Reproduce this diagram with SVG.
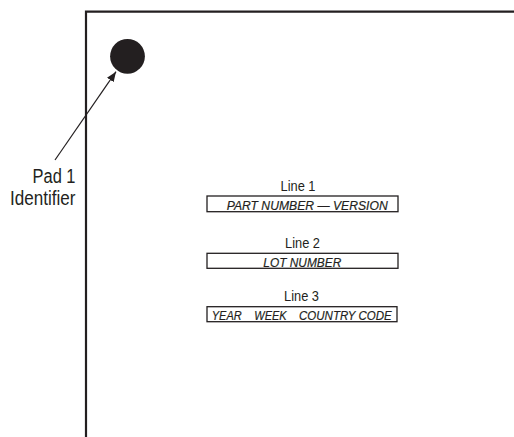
<svg xmlns="http://www.w3.org/2000/svg" width="514" height="437" viewBox="0 0 514 437">
<style>
.lbl{font-family:"Liberation Sans",Arial,sans-serif;fill:#231f20}
.it{font-family:"Liberation Sans",Arial,sans-serif;font-style:italic;font-size:13.5px;fill:#231f20;stroke:#231f20;stroke-width:0.2}
.box{fill:#fff;stroke:#231f20;stroke-width:1.3}
</style>
<defs>
<marker id="ah" markerWidth="10" markerHeight="8" refX="10" refY="4" orient="auto" markerUnits="userSpaceOnUse" viewBox="0 0 10 8">
<path d="M0,0 L10,4 L0,8 z" fill="#231f20"/>
</marker>
</defs>
<rect width="514" height="437" fill="#fff"/>
<g id="outline">
<path d="M86,437 V11.7 H514" fill="none" stroke="#231f20" stroke-width="2.2"/>
</g>
<g id="pad1">
<circle cx="127.5" cy="56.3" r="17.4" fill="#231f20"/>
</g>
<g id="connectors">
<line x1="55" y1="160" x2="116" y2="71.7" stroke="#231f20" stroke-width="1.2" marker-end="url(#ah)"/>
</g>
<g id="pad1-label">
<text class="lbl" x="75.5" y="183" font-size="20" text-anchor="end" textLength="43" lengthAdjust="spacingAndGlyphs">Pad 1</text>
<text class="lbl" x="75.5" y="205" font-size="20" text-anchor="end" textLength="65.5" lengthAdjust="spacingAndGlyphs">Identifier</text>
</g>
<g id="line1">
<text class="lbl" x="298" y="191" font-size="14" text-anchor="middle" textLength="35" lengthAdjust="spacingAndGlyphs">Line 1</text>
<rect class="box" x="207" y="196" width="191" height="15.7"/>
<text class="it" x="226.7" y="210" textLength="161" lengthAdjust="spacingAndGlyphs">PART NUMBER — VERSION</text>
</g>
<g id="line2">
<text class="lbl" x="302.5" y="247.7" font-size="14" text-anchor="middle" textLength="35" lengthAdjust="spacingAndGlyphs">Line 2</text>
<rect class="box" x="207" y="253.3" width="191" height="15"/>
<text class="it" x="263.3" y="266.6" textLength="78" lengthAdjust="spacingAndGlyphs">LOT NUMBER</text>
</g>
<g id="line3">
<text class="lbl" x="301.5" y="300.7" font-size="14" text-anchor="middle" textLength="35" lengthAdjust="spacingAndGlyphs">Line 3</text>
<rect class="box" x="207" y="306.7" width="190" height="15"/>
<text class="it" x="211.7" y="319.6" textLength="30" lengthAdjust="spacingAndGlyphs">YEAR</text>
<text class="it" x="254.3" y="319.6" textLength="32.4" lengthAdjust="spacingAndGlyphs">WEEK</text>
<text class="it" x="299" y="319.6" textLength="92.7" lengthAdjust="spacingAndGlyphs">COUNTRY CODE</text>
</g>
</svg>
